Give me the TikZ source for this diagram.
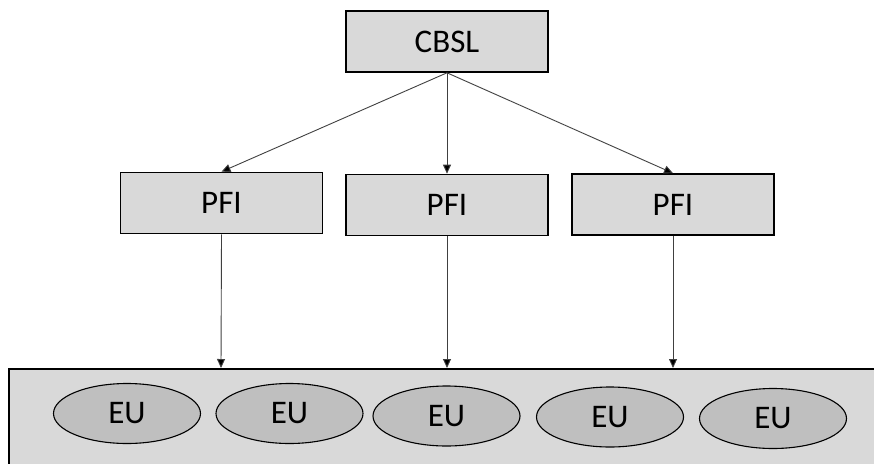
\documentclass[tikz,border=0pt]{standalone}
\usepackage{fontspec}
\setmainfont{Carlito}
\usetikzlibrary{arrows.meta,shapes.geometric}
\definecolor{boxgray}{HTML}{D9D9D9}
\definecolor{ellgray}{HTML}{BFBFBF}
\definecolor{linegray}{HTML}{404040}
\begin{document}
\begin{tikzpicture}[x=1pt,y=-1pt,
  stepbox/.style={draw=black,line width=1.6pt,fill=boxgray,minimum width=202pt,minimum height=61pt,inner sep=0pt,font=\fontsize{33}{36}\selectfont},
  eunode/.style={ellipse,draw=black,line width=1.1pt,fill=ellgray,minimum width=147pt,minimum height=60pt,inner sep=0pt,font=\fontsize{33}{36}\selectfont},
  conn/.style={draw=linegray,line width=0.9pt,-{Triangle[length=9pt,width=8pt,fill=black]}}]
\useasboundingbox (0,0) rectangle (874,463);
\clip (0,0) rectangle (874,463);
\node[draw=black,line width=1.6pt,fill=boxgray,minimum width=900pt,minimum height=110pt,anchor=north west,inner sep=0pt] (base) at (8,368) {};
\node[stepbox] (cbsl) at (447,41.5) {CBSL};
\node[stepbox] (pfa) at (221.5,203) {PFI};
\node[stepbox] (pfb) at (447,205) {PFI};
\node[stepbox] (pfc) at (673,204.5) {PFI};
\node[eunode] (eu1) at (127,413.5) {EU};
\node[eunode] (eu2) at (289.5,413.5) {EU};
\node[eunode] (eu3) at (446.5,416) {EU};
\node[eunode] (eu4) at (610,417) {EU};
\node[eunode] (eu5) at (773,418.5) {EU};
\coordinate (ta) at (221,368);
\coordinate (tb) at (447,368);
\coordinate (tc) at (673,368);
\draw[conn] (cbsl.south) -- (pfa.north);
\draw[conn] (cbsl.south) -- (pfb.north);
\draw[conn] (cbsl.south) -- (pfc.north);
\draw[conn] (pfa.south) -- (ta);
\draw[conn] (pfb.south) -- (tb);
\draw[conn] (pfc.south) -- (tc);
\end{tikzpicture}
\end{document}
